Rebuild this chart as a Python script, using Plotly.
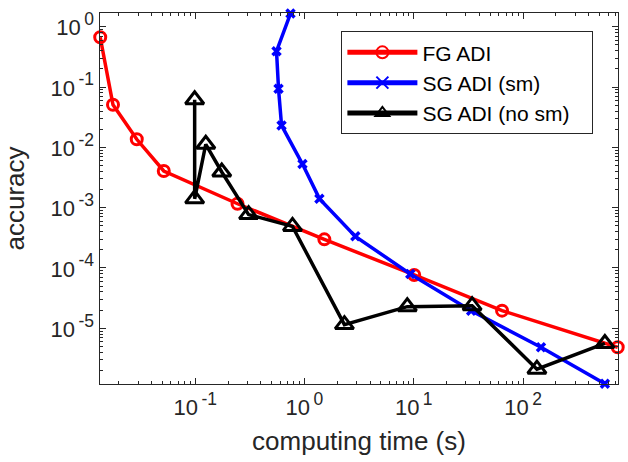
import plotly.graph_objects as go

fg_time = [0.01352, 0.0177, 0.0292, 0.0516, 0.244, 1.52, 10.1, 64.3, 735]
fg_acc = [0.667, 0.0508, 0.0136, 0.00405, 0.00116, 2.98e-4, 7.65e-5, 1.96e-5, 4.85e-6]

sm_time = [0.745, 0.555, 0.579, 0.617, 0.959, 1.37, 2.92, 9.29, 33.5, 146, 561]
sm_acc = [1.65, 0.393, 0.0934, 0.0231, 0.00527, 0.00141, 3.34e-4, 7.94e-5, 1.96e-5, 4.85e-6, 1.2e-6]

nosm_time = [0.0989, 0.0989, 0.125, 0.175, 0.308, 0.777, 2.32, 8.73, 34.2, 134, 561]
nosm_acc = [0.0614, 0.00140, 0.01124, 0.0039, 7.67e-4, 4.88e-4, 1.15e-5, 2.28e-5, 2.37e-5, 2.1e-6, 5.6e-6]

x_ticks = [0.1, 1, 10, 100]
x_exps = ["-1", "0", "1", "2"]
y_ticks = [1, 0.1, 0.01, 0.001, 1e-4, 1e-5]
y_exps = ["0", "-1", "-2", "-3", "-4", "-5"]

FONT = "Liberation Sans, Arial, sans-serif"
AX = "#262626"


def pow_label(e):
    return "<span style='font-size:22px'>10</span><sup>\u2009" + e + "</sup>"


def minor_vals(lo_exp, hi_exp):
    vals = []
    for e in range(lo_exp, hi_exp + 1):
        for m in range(2, 10):
            vals.append(m * 10.0 ** e)
    return vals


fig = go.Figure()
fig.add_trace(go.Scatter(
    x=fg_time, y=fg_acc, mode="lines+markers", name="FG ADI",
    line=dict(color="#ff0000", width=3.5),
    marker=dict(symbol="circle-open", size=11, color="#ff0000", line=dict(width=3)),
    cliponaxis=False))
fig.add_trace(go.Scatter(
    x=sm_time, y=sm_acc, mode="lines+markers", name="SG ADI (sm)",
    line=dict(color="#0000ff", width=3.5),
    marker=dict(symbol="x-thin", size=8, color="#0000ff", line=dict(width=3.5, color="#0000ff")),
    cliponaxis=False))
fig.add_trace(go.Scatter(
    x=nosm_time, y=nosm_acc, mode="lines+markers", name="SG ADI (no sm)\u00a0\u00a0\u00a0",
    line=dict(color="#000000", width=3.5),
    marker=dict(symbol="triangle-up-open", size=16, color="#000000", line=dict(width=3)),
    cliponaxis=False))

fig.update_layout(
    width=628, height=462,
    margin=dict(l=100, r=9, t=10, b=78),
    paper_bgcolor="white", plot_bgcolor="white",
    font=dict(family=FONT, size=22, color=AX),
    showlegend=True,
    legend=dict(x=0.466, y=0.951, xanchor="left", yanchor="top",
                bordercolor=AX, borderwidth=1, bgcolor="white",
                font=dict(size=21, color="#000000"),
                tracegroupgap=0, itemwidth=70, itemsizing="constant"),
)
fig.update_xaxes(
    type="log", range=[-1.871, 2.869],
    tickmode="array", tickvals=x_ticks, ticktext=[pow_label(e) for e in x_exps],
    ticks="inside", ticklen=6, tickcolor=AX, tickwidth=1,
    showline=True, linecolor=AX, linewidth=1, mirror="ticks",
    showgrid=False, zeroline=False,
    tickfont=dict(size=25, color=AX),
    minor=dict(tickmode="array", tickvals=minor_vals(-2, 2), ticks="inside", ticklen=3,
               tickcolor=AX, tickwidth=1, showgrid=False),
    title=dict(text="computing time (s)", font=dict(size=26, color=AX), standoff=12),
)
fig.update_yaxes(
    type="log", range=[-5.924, 0.227],
    tickmode="array", tickvals=y_ticks, ticktext=[pow_label(e) for e in y_exps],
    ticks="inside", ticklen=6, tickcolor=AX, tickwidth=1,
    showline=True, linecolor=AX, linewidth=1, mirror="ticks",
    showgrid=False, zeroline=False,
    tickfont=dict(size=25, color=AX),
    minor=dict(tickmode="array", tickvals=minor_vals(-6, 0), ticks="inside", ticklen=3,
               tickcolor=AX, tickwidth=1, showgrid=False),
    title=dict(text="accuracy", font=dict(size=26, color=AX), standoff=22),
)

fig.write_html("out.html")
